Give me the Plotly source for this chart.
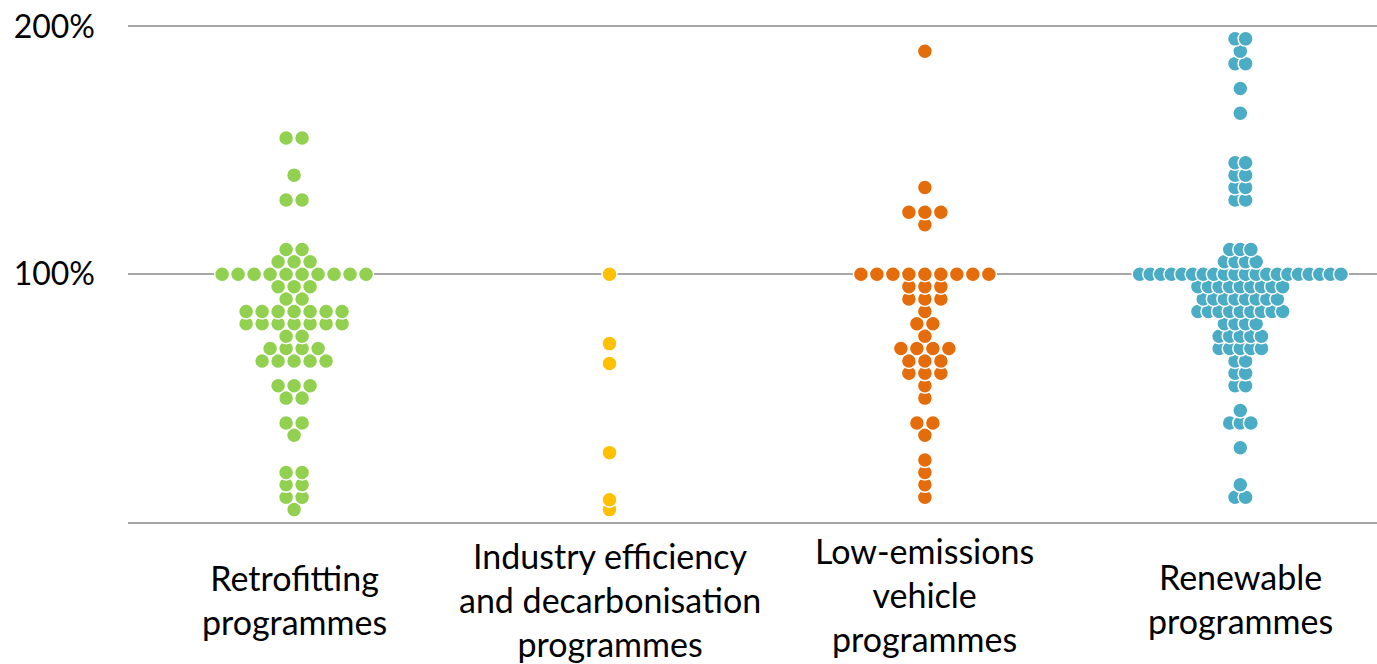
import plotly.graph_objects as go
from collections import Counter

# ---------------- data ----------------
category_labels = [
    "Retrofitting<br>programmes",
    "Industry efficiency<br>and decarbonisation<br>programmes",
    "Low-emissions<br>vehicle<br>programmes",
    "Renewable<br>programmes",
]

retrofitting = [155, 155, 140, 130, 130, 110, 110, 105, 105, 105,
                100, 100, 100, 100, 100, 100, 100, 100, 100, 100,
                95, 95, 95, 90, 90,
                85, 85, 85, 85, 85, 85, 85,
                80, 80, 80, 80, 80, 80, 80,
                75, 75, 70, 70, 70, 70,
                65, 65, 65, 65, 65,
                55, 55, 55, 50, 50, 40, 40, 35,
                20, 20, 15, 15, 10, 10, 5]

industry = [100, 72, 64, 28, 9, 5]

low_emissions = [190, 135, 125, 125, 125, 120,
                 100, 100, 100, 100, 100, 100, 100, 100, 100,
                 95, 95, 95, 90, 90, 90, 85, 80, 80, 75,
                 70, 70, 70, 70, 65, 65, 65, 60, 60, 60,
                 55, 50, 40, 40, 35, 25, 20, 15, 10]

renewable = [195, 195, 190, 185, 185, 175, 165,
             145, 145, 140, 140, 135, 135, 130, 130,
             110, 110, 110, 105, 105, 105, 105,
             100, 100, 100, 100, 100, 100, 100, 100, 100, 100,
             100, 100, 100, 100, 100, 100, 100, 100, 100, 100,
             95, 95, 95, 95, 95, 95, 95, 95, 95,
             90, 90, 90, 90, 90, 90, 90, 90,
             85, 85, 85, 85, 85, 85, 85, 85, 85,
             80, 80, 80, 80,
             75, 75, 75, 75, 75,
             70, 70, 70, 70, 70,
             65, 65, 60, 60, 55, 55,
             45, 40, 40, 40, 30, 15, 10, 10]

series = [retrofitting, industry, low_emissions, renewable]

y_tick_values = [100, 200]
y_tick_labels = ["100%", "200%"]

# ---------------- styles ----------------
colors = ["#92D050", "#FFC000", "#E46C0A", "#4BACC6"]
dot_step = [0.0507, 0.0507, 0.0507, 0.0336]   # horizontal spacing of side-by-side dots (x units)
label_y = [-0.155, -0.155, -0.146, -0.154]     # paper y of category label centres
FONT = "Lato"
TICK_SIZE = 32
LABEL_SIZE = 34


def swarm(values, centre, step):
    """Place equal values side by side, centred on the category."""
    counts = Counter(values)
    xs, ys = [], []
    for v in sorted(counts):
        n = counts[v]
        for i in range(n):
            xs.append(centre + (i - (n - 1) / 2) * step)
            ys.append(v)
    return xs, ys


fig = go.Figure()
for idx, vals in enumerate(series):
    xs, ys = swarm(vals, idx, dot_step[idx])
    fig.add_trace(go.Scatter(
        x=xs, y=ys, mode="markers",
        marker=dict(size=15, color=colors[idx],
                    line=dict(color="white", width=1.5)),
        cliponaxis=False, showlegend=False, hoverinfo="y",
    ))

for idx, lab in enumerate(category_labels):
    fig.add_annotation(
        x=idx, xref="x", y=label_y[idx], yref="paper",
        text=lab, showarrow=False, xanchor="center", yanchor="middle",
        align="center", font=dict(family=FONT, size=LABEL_SIZE, color="black"),
    )

fig.update_layout(
    width=1377, height=664,
    margin=dict(l=128, r=0, t=24, b=142),
    paper_bgcolor="white", plot_bgcolor="white",
    font=dict(family=FONT, size=TICK_SIZE, color="black"),
    xaxis=dict(range=[-0.5266, 3.4334], showticklabels=False, showgrid=False,
               zeroline=False, showline=True, linecolor="#A6A6A6", linewidth=2,
               ticks="", automargin=False),
    yaxis=dict(range=[0, 201], tickvals=y_tick_values, ticktext=y_tick_labels,
               showgrid=True, gridcolor="#A6A6A6", gridwidth=2,
               zeroline=False, showline=False, ticks="",
               ticklabelstandoff=32, automargin=False,
               tickfont=dict(family=FONT, size=TICK_SIZE, color="black")),
)

fig.write_html(
    "out.html",
    config={"displayModeBar": False},
    post_script="document.body.style.margin='0px';document.body.style.overflow='hidden';",
)
